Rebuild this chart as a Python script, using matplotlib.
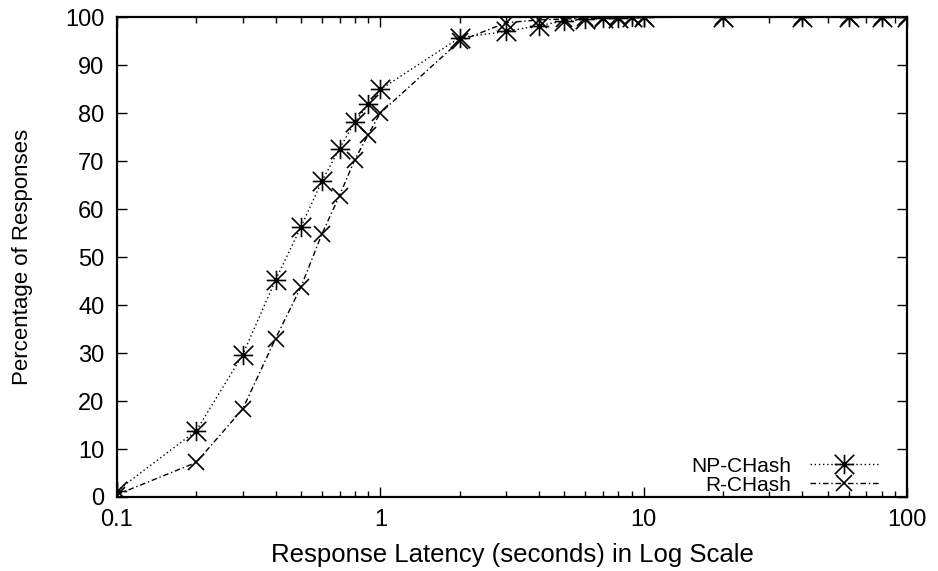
import matplotlib
matplotlib.use("Agg")
import matplotlib.pyplot as plt
from matplotlib.path import Path
from matplotlib.ticker import LogLocator, FixedLocator, NullFormatter

plt.rcParams["font.family"] = ["Liberation Sans", "DejaVu Sans"]

latency = [0.1, 0.2, 0.3, 0.4, 0.5, 0.6, 0.7, 0.8, 0.9, 1,
           2, 3, 4, 5, 6, 7, 8, 9, 10, 20, 40, 60, 80, 100]
np_chash = [1.3, 13.8, 29.6, 45.2, 56.3, 65.8, 72.6, 78.1, 81.8, 84.9,
            95.7, 97.0, 98.2, 99.2, 99.5, 99.7, 99.8, 99.9, 99.9, 100, 100, 100, 100, 100]
r_chash = [0.5, 7.2, 18.3, 33.0, 43.8, 54.8, 62.8, 70.3, 75.5, 80.0,
           95.0, 98.8, 99.4, 99.6, 99.7, 99.8, 99.9, 99.9, 100, 100, 100, 100, 100, 100]
yticks = list(range(0, 101, 10))
xticks = [0.1, 1, 10, 100]
xticklabels = ["0.1", "1", "10", "100"]

# gnuplot style asterisk: plus and cross on top of each other
star = Path([(-1, 0), (1, 0), (0, -1), (0, 1), (-1, -1), (1, 1), (-1, 1), (1, -1)],
            [Path.MOVETO, Path.LINETO] * 4)

fig = plt.figure(figsize=(9.38, 5.71), dpi=100)
ax = fig.add_axes([0.1247, 0.1296, 0.8423, 0.8406])

ax.plot(latency, np_chash, color="black", lw=1.0, ls=(0, (1, 2)),
        marker=star, ms=14, mew=1.2, label="NP-CHash")
ax.plot(latency, r_chash, color="black", lw=1.0, ls=(0, (4, 2, 1, 2)),
        marker="x", ms=12, mew=1.2, label="R-CHash")

ax.set_xscale("log")
ax.set_xlim(0.1, 100)
ax.set_ylim(0, 100)
ax.xaxis.set_major_locator(FixedLocator(xticks))
ax.set_xticklabels(xticklabels)
ax.xaxis.set_minor_locator(LogLocator(base=10, subs=range(2, 10)))
ax.xaxis.set_minor_formatter(NullFormatter())
ax.set_yticks(yticks)

for s in ax.spines.values():
    s.set_linewidth(1.6)
ax.tick_params(which="both", direction="in", top=True, right=True,
               labelsize=17, width=1.0)
ax.tick_params(which="major", length=7, pad=9)
ax.tick_params(which="minor", length=4)

ax.set_xlabel("Response Latency (seconds) in Log Scale", fontsize=18.5, labelpad=8)
ax.set_ylabel("Percentage of Responses", fontsize=16, labelpad=23)

leg = ax.legend(loc="lower right", bbox_to_anchor=(0.965, 0.005),
                frameon=False, markerfirst=False,
                fontsize=15, handlelength=3.35, numpoints=1,
                labelspacing=0.0, borderpad=0.0, borderaxespad=0.0,
                handletextpad=0.9)
# right-justify the entries like gnuplot does
leg._legend_box._children[-1]._children[0].align = "right"

fig.savefig("out.png", dpi=100)
